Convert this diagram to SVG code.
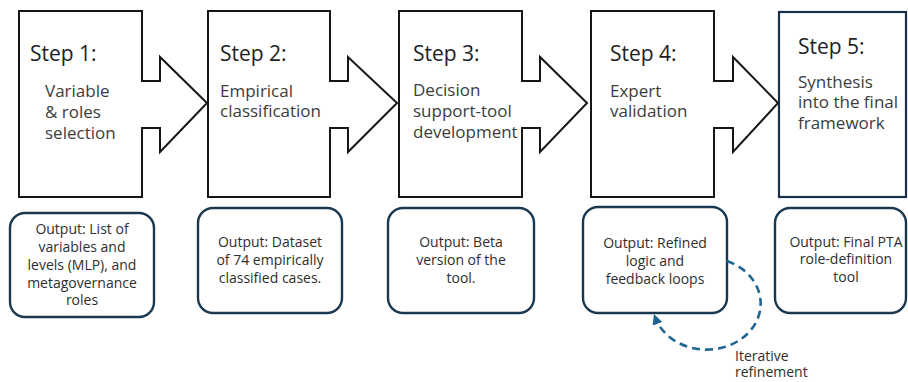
<svg xmlns="http://www.w3.org/2000/svg" width="908" height="382" viewBox="0 0 908 382">
  <style>
    .step { fill: #ffffff; stroke: #161616; stroke-width: 2; stroke-linejoin: miter; }
    .step-final { fill: #ffffff; stroke: #17324a; stroke-width: 2.2; }
    .out { fill: #ffffff; stroke: #1a3850; stroke-width: 2.4; }
    .head { font-family: "Open Sans", "Liberation Sans", sans-serif; font-size: 21px; font-weight: 500; fill: #1e1e1e; }
    .body { font-family: "Open Sans", "Liberation Sans", sans-serif; font-size: 17px; font-weight: 500; fill: #3c3c3c; }
    .otext { font-family: "Open Sans", "Liberation Sans", sans-serif; font-size: 14px; font-weight: 500; fill: #2e2e2e; text-anchor: middle; }
    .note { font-family: "Open Sans", "Liberation Sans", sans-serif; font-size: 14px; font-weight: 500; fill: #2e2e2e; }
    .loop { fill: none; stroke: #1f6592; stroke-width: 2.6; stroke-dasharray: 8 5; }
  </style>
  <defs>
    <marker id="loopHead" viewBox="0 0 10 10" refX="7" refY="5" markerWidth="4" markerHeight="4" orient="auto" markerUnits="strokeWidth">
      <path d="M0,0 L10,5 L0,10 z" fill="#1f6592"/>
    </marker>
  </defs>

  <rect width="908" height="382" fill="#ffffff"/>

  <!-- Step 1: box with block arrow -->
  <g id="step1">
    <polygon class="step" points="19,11 142,11 142,81 160,81 160,57 207,103 160,152 160,128 142,128 142,197 19,197"/>
    <text class="head" x="30" y="61">Step 1:</text>
    <text class="body" x="45" y="97">Variable</text>
    <text class="body" x="45" y="118">&amp; roles</text>
    <text class="body" x="45" y="139">selection</text>
  </g>

  <!-- Step 2 -->
  <g id="step2">
    <polygon class="step" points="208,11 330,11 330,81 348,81 348,57 397,103 348,152 348,128 330,128 330,197 208,197"/>
    <text class="head" x="220" y="61">Step 2:</text>
    <text class="body" x="220" y="97">Empirical</text>
    <text class="body" x="220" y="117">classification</text>
  </g>

  <!-- Step 3 -->
  <g id="step3">
    <polygon class="step" points="399,11 522,11 522,81 540,81 540,57 587,103 540,152 540,128 522,128 522,197 399,197"/>
    <text class="head" x="413" y="61">Step 3:</text>
    <text class="body" x="413" y="96">Decision</text>
    <text class="body" x="413" y="117">support-tool</text>
    <text class="body" x="413" y="138">development</text>
  </g>

  <!-- Step 4 -->
  <g id="step4">
    <polygon class="step" points="591,11 714,11 714,81 733,81 733,57 778,103 733,152 733,128 714,128 714,197 591,197"/>
    <text class="head" x="610" y="61">Step 4:</text>
    <text class="body" x="610" y="97">Expert</text>
    <text class="body" x="610" y="117">validation</text>
  </g>

  <!-- Step 5 -->
  <g id="step5">
    <rect class="step-final" x="779" y="12" width="127" height="185"/>
    <text class="head" x="798" y="54">Step 5:</text>
    <text class="body" x="798" y="88">Synthesis</text>
    <text class="body" x="798" y="108">into the final</text>
    <text class="body" x="798" y="129">framework</text>
  </g>

  <!-- Outputs -->
  <g id="output1">
    <rect class="out" x="10" y="213" width="144" height="104" rx="15"/>
    <text class="otext" x="82" y="234">Output: List of</text>
    <text class="otext" x="82" y="252">variables and</text>
    <text class="otext" x="82" y="270">levels (MLP), and</text>
    <text class="otext" x="82" y="288">metagovernance</text>
    <text class="otext" x="82" y="305">roles</text>
  </g>

  <g id="output2">
    <rect class="out" x="198" y="208" width="144" height="105" rx="15"/>
    <text class="otext" x="270" y="247">Output: Dataset</text>
    <text class="otext" x="270" y="265">of 74 empirically</text>
    <text class="otext" x="270" y="283">classified cases.</text>
  </g>

  <g id="output3">
    <rect class="out" x="388" y="208" width="146" height="105" rx="15"/>
    <text class="otext" x="461" y="247">Output: Beta</text>
    <text class="otext" x="461" y="265">version of the</text>
    <text class="otext" x="461" y="283">tool.</text>
  </g>

  <g id="output4">
    <rect class="out" x="583" y="207" width="144" height="106" rx="15"/>
    <text class="otext" x="655" y="248">Output: Refined</text>
    <text class="otext" x="655" y="266">logic and</text>
    <text class="otext" x="655" y="284">feedback loops</text>
  </g>

  <g id="output5">
    <rect class="out" x="775" y="208" width="131" height="105" rx="15"/>
    <text class="otext" x="846" y="247">Output: Final PTA</text>
    <text class="otext" x="846" y="264">role-definition</text>
    <text class="otext" x="846" y="282">tool</text>
  </g>

  <!-- Feedback loop on the expert validation output -->
  <g id="connectors">
    <path class="loop" d="M727,261 A54,46 0 1 1 655,317" marker-end="url(#loopHead)"/>
  </g>
  <g id="loop-label">
    <text class="note" x="735" y="361">Iterative</text>
    <text class="note" x="735" y="377">refinement</text>
  </g>
</svg>
